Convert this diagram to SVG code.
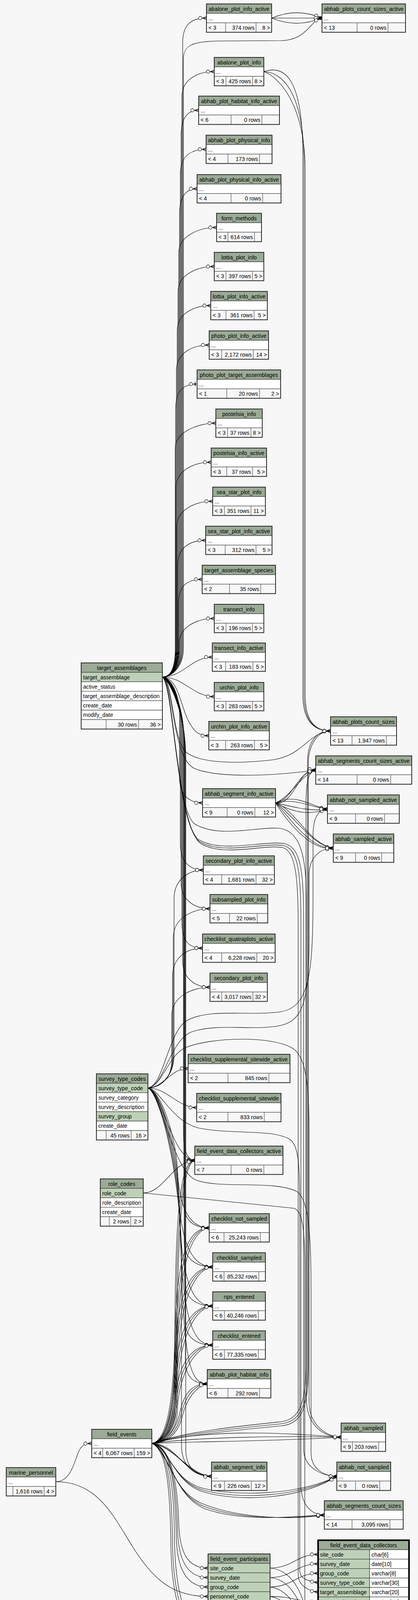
<svg xmlns="http://www.w3.org/2000/svg" width="1071" height="4367" viewBox="0 0 1071 4367">
<style>
text{font-family:"Liberation Sans",Arial,Helvetica,sans-serif;font-size:14.1px;fill:#000}
.c{text-anchor:middle}
.r{text-anchor:end}
.h{fill:#9bab96;stroke:#2a2a2a;stroke-width:1}
.k{fill:#bed1b8;stroke:#2a2a2a;stroke-width:1}
.w{fill:#fff;stroke:#2a2a2a;stroke-width:1}
.f{fill:#f7f7f7;stroke:#2a2a2a;stroke-width:1}
.g{fill:none;stroke:#2a2a2a;stroke-width:1}
.o{fill:none;stroke:#2a2a2a;stroke-width:2}
.ob{fill:none;stroke:#000;stroke-width:4}
#connectors path{fill:none;stroke:#000;stroke-width:1.1;marker-end:url(#cr)}
#connectors path.t1{marker-end:url(#tee)}
</style>
<defs>
<marker id="cr" markerUnits="userSpaceOnUse" viewBox="0 0 24 12" refX="22" refY="6" markerWidth="24" markerHeight="12" orient="auto">
<path d="M12,6L22,2M12,6L22,6M12,6L22,10" fill="none" stroke="#000" stroke-width="1.3"/>
<circle cx="6" cy="6" r="4.2" fill="#fff" stroke="#000" stroke-width="1.1"/>
</marker>
<marker id="tee" markerUnits="userSpaceOnUse" viewBox="0 0 24 12" refX="22" refY="6" markerWidth="24" markerHeight="12" orient="auto">
<path d="M10,6L22,6" fill="none" stroke="#000" stroke-width="1.1"/>
<path d="M17,1.5L17,10.5" fill="none" stroke="#000" stroke-width="2.4"/>
<circle cx="6" cy="6" r="4.2" fill="#fff" stroke="#000" stroke-width="1.1"/>
</marker>
</defs>
<rect width="1071" height="4367" fill="#f7f7f7"/>

<g id="connectors">
<path d="M416,1733C440,1733 468,1705 468,1660V111C468,68 484,46.3 529,46.3"/>
<path d="M416,1733C442,1733 470,1705 470,1660V150C470,118 490,106 560,105L720,104C790,102 795,50 825,46.3"/>
<path d="M416,1733C440,1733 466,1705 466,1660V248C466,205 504,183.3 549,183.3"/>
<path d="M416,1733C440,1733 464,1705 464,1660V347C464,304 479,282.3 509,282.3"/>
<path d="M416,1733C440,1733 462,1705 462,1660V447C462,404 483,382.3 528,382.3"/>
<path d="M416,1733C440,1733 460,1705 460,1660V548C460,505 475,483.3 505,483.3"/>
<path d="M416,1733C440,1733 458,1705 458,1660V647C458,604 510,582.3 555,582.3"/>
<path d="M416,1733C440,1733 456,1705 456,1660V747C456,704 504,682.3 549,682.3"/>
<path d="M416,1733C440,1733 454,1705 454,1660V847C454,804 495,782.3 540,782.3"/>
<path d="M416,1733C440,1733 452,1705 452,1660V948C452,905 491,883.3 536,883.3"/>
<path class="t1" d="M416,1733C440,1733 450,1705 450,1660V1048C450,1005 465,983.3 505,983.3"/>
<path d="M416,1733C440,1733 449,1705 449,1660V1148C449,1105 508,1083.3 553,1083.3"/>
<path d="M416,1733C440,1733 451,1705 451,1660V1248C451,1205 496,1183.3 541,1183.3"/>
<path d="M416,1733C440,1733 453,1705 453,1660V1348C453,1305 500,1283.3 545,1283.3"/>
<path d="M416,1733C440,1733 455,1705 455,1660V1448C455,1405 482,1383.3 527,1383.3"/>
<path d="M416,1733C440,1733 457,1705 457,1660V1548C457,1505 473,1483.3 518,1483.3"/>
<path d="M416,1733C440,1733 459,1705 459,1660V1648C459,1605 504,1583.3 549,1583.3"/>
<path d="M416,1733C470,1733 490,1682.3 544,1682.3"/>
<path d="M416,1733C470,1733 495,1783.3 549,1783.3"/>
<path d="M416,1733C455,1735 462,1800 480,1840C495,1870 505,1883.3 535,1883.3"/>
<path d="M416,1733C440,1735 460,1780 460,1830V1990C460,2030 480,2055.3 519,2055.3"/>
<path d="M416,1733C440,1736 462,1790 462,1840V2160C462,2205 485,2227.3 521,2227.3"/>
<path d="M416,1733C440,1737 464,1795 464,1850V2260C464,2305 500,2326.3 538,2326.3"/>
<path d="M416,1733C440,1738 466,1800 466,1860V2360C466,2405 480,2427.3 519,2427.3"/>
<path d="M416,1733C440,1739 468,1805 468,1870V2460C468,2505 500,2527.3 538,2527.3"/>
<path d="M416,1733C440,1740 470,1810 470,1880V2900C470,2945 480,2970.3 499,2970.3"/>
<path d="M416,1733C440,1741 471,1815 471,1890V3080C471,3125 495,3143.3 536,3143.3"/>
<path d="M416,1733C440,1742 472,1820 472,1900V3180C472,3225 505,3243.3 545,3243.3"/>
<path d="M416,1733C440,1743 473,1825 473,1910V3280C473,3325 505,3343.3 545,3343.3"/>
<path d="M416,1733C440,1744 474,1830 474,1920V3380C474,3425 505,3443.3 545,3443.3"/>
<path d="M416,1733C440,1745 475,1835 475,1930V3480C475,3525 495,3542.3 531,3542.3"/>
<path d="M416,1733C440,1746 476,1840 476,1940V3710C476,3760 505,3779.3 542,3779.3"/>
<path d="M416,1733C445,1740 440,1900 480,1928C520,1956 620,1955 700,1945C780,1932 790,1875 847,1871.3"/>
<path d="M416,1733C445,1745 440,1945 500,1968C560,1992 700,1987 809,1971.3"/>
<path d="M416,1733C445,1745 450,2080 500,2110C560,2145 650,2118 710,2120C765,2122 785,2180 785,2300V3580C785,3650 830,3679.3 874,3679.3"/>
<path d="M416,1733C445,1748 452,2110 510,2150C570,2185 680,2150 730,2160C770,2170 778,2230 778,2350V3710C778,3760 830,3779.3 863,3779.3"/>
<path d="M416,1733C445,1750 452,2115 512,2155C572,2190 680,2155 728,2165C765,2175 771,2240 771,2360V3800C771,3855 800,3878.3 831,3878.3"/>
<path d="M416,1733C445,1752 454,2120 515,2160C575,2195 680,2160 725,2170C758,2180 764,2250 764,2370V4030C764,4060 790,4072 815,4076.1"/>
<path d="M676,183.3C730,165 776,200 776,400V1780C776,1840 800,1871.3 847,1871.3"/>
<path d="M676,183.3C720,185 779,230 779,420V1780C779,1845 805,1871.3 847,1871.3"/>
<path d="M676,183.3C710,195 782,260 782,440V1780C782,1850 810,1871.3 847,1871.3"/>
<path d="M696,46.3C740,28 780,28 825,46.3"/>
<path d="M696,46.3L825,46.3"/>
<path d="M696,46.3C740,64 780,64 825,46.3"/>
<path d="M706,2055.3C750,2050 760,1975 809,1971.3"/>
<path d="M706,2055.3C745,2040 770,1985 809,1971.3"/>
<path d="M706,2055.3C755,2062 765,1965 809,1971.3"/>
<path d="M706,2055.3C760,2030 790,2062 839,2071.3"/>
<path d="M706,2055.3C760,2042 800,2068 839,2071.3"/>
<path d="M706,2055.3C760,2068 800,2078 839,2071.3"/>
<path d="M706,2055.3C760,2085 800,2085 839,2071.3"/>
<path d="M706,2055.3C760,2075 790,2160 854,2171.3"/>
<path d="M706,2055.3C755,2090 800,2165 854,2171.3"/>
<path d="M706,2055.3C745,2095 795,2175 854,2171.3"/>
<path d="M706,2055.3C740,2110 800,2180 854,2171.3"/>
<path d="M379,2785C405,2785 446,2760 446,2700V2300C446,2255 480,2227.3 521,2227.3"/>
<path d="M379,2785C405,2785 444,2762 444,2705V2400C444,2350 495,2326.3 538,2326.3"/>
<path d="M379,2785C405,2785 442,2764 442,2710V2500C442,2450 480,2427.3 519,2427.3"/>
<path d="M379,2785C405,2785 440,2766 440,2715V2600C440,2550 495,2527.3 538,2527.3"/>
<path d="M379,2785C420,2785 435,2736 482,2735.3"/>
<path d="M379,2785C430,2786 455,2835.3 504,2835.3"/>
<path d="M379,2785C415,2790 440,2968 499,2970.3"/>
<path d="M379,2785C410,2790 450,2900 455,3000C460,3100 490,3143.3 536,3143.3"/>
<path d="M379,2785C410,2792 452,2920 457,3040C462,3200 500,3243.3 545,3243.3"/>
<path d="M379,2785C410,2794 454,2940 459,3080C464,3300 500,3343.3 545,3343.3"/>
<path d="M379,2785C410,2796 456,2960 461,3120C466,3400 500,3443.3 545,3443.3"/>
<path d="M379,2785C410,2798 458,2980 463,3160C468,3500 490,3542.3 531,3542.3"/>
<path d="M379,2785C410,2800 460,3000 465,3200V3700C465,3755 500,3779.3 542,3779.3"/>
<path d="M379,2785C420,2780 430,2640 480,2612C540,2580 640,2602 720,2590C790,2578 802,2500 802,2300V2140C802,2095 815,2071.3 839,2071.3"/>
<path d="M379,2785C420,2781 435,2665 490,2642C560,2618 650,2640 720,2625C780,2612 792,2550 792,2400V2240C792,2195 820,2171.3 854,2171.3"/>
<path d="M379,2785C415,2782 432,2700 475,2682C540,2655 700,2650 752,2685C788,2710 792,2800 792,2900V3590C792,3650 840,3679.3 874,3679.3"/>
<path d="M379,2785C410,2788 438,2870 510,2888C600,2905 690,2890 740,2915C770,2932 768,3000 768,3150V4020C768,4045 795,4048 815,4051.9"/>
<path d="M379,2785C410,2790 440,2990 500,3020C560,3045 700,3020 760,3050C790,3068 797,3150 797,3300V3720C797,3760 830,3779.3 863,3779.3"/>
<path d="M367,3054C420,3054 440,2975 499,2970.3"/>
<path d="M367,3054L752,3093C776,3098 781,3150 781,3250V4090C781,4115 800,4120 815,4124.5"/>
<path d="M389,3695C425,3690 446,3600 448,3400C450,3100 462,2972 499,2970.3"/>
<path d="M389,3695C428,3692 449,3600 451,3400C453,3110 466,2975 499,2970.3"/>
<path d="M389,3695C431,3694 452,3600 454,3400C456,3120 470,2978 499,2970.3"/>
<path d="M389,3695C425,3690 446,3620 448,3450C450,3250 470,3143.3 536,3143.3"/>
<path d="M389,3695C428,3692 449,3620 451,3460C453,3260 476,3146 536,3143.3"/>
<path d="M389,3695C431,3694 452,3620 454,3470C456,3270 482,3150 536,3143.3"/>
<path d="M389,3695C425,3690 446,3630 448,3500C450,3330 480,3243.3 545,3243.3"/>
<path d="M389,3695C428,3692 449,3630 451,3510C453,3340 486,3246 545,3243.3"/>
<path d="M389,3695C431,3694 452,3630 454,3520C456,3350 492,3250 545,3243.3"/>
<path d="M389,3695C425,3690 446,3640 448,3560C450,3420 480,3343.3 545,3343.3"/>
<path d="M389,3695C428,3692 449,3640 451,3570C453,3430 486,3346 545,3343.3"/>
<path d="M389,3695C431,3694 452,3640 454,3580C456,3440 492,3350 545,3343.3"/>
<path d="M389,3695C425,3690 446,3650 448,3610C450,3510 480,3443.3 545,3443.3"/>
<path d="M389,3695C428,3692 449,3650 451,3615C453,3520 486,3446 545,3443.3"/>
<path d="M389,3695C431,3694 452,3650 454,3620C456,3530 492,3450 545,3443.3"/>
<path d="M389,3695C430,3690 450,3660 460,3620C470,3570 490,3542.3 531,3542.3"/>
<path d="M389,3695C433,3692 453,3662 463,3625C473,3578 495,3545 531,3542.3"/>
<path d="M389,3695C436,3694 456,3664 466,3630C476,3585 500,3550 531,3542.3"/>
<path d="M389,3695C450,3700 480,3779.3 542,3779.3"/>
<path d="M389,3695C450,3705 485,3776 542,3779.3"/>
<path d="M389,3695C455,3695 475,3784 542,3779.3"/>
<path d="M389,3695C500,3680 700,3675 874,3679.3"/>
<path d="M389,3695C500,3690 700,3690 874,3679.3"/>
<path d="M389,3695C520,3660 700,3665 874,3679.3"/>
<path d="M389,3695C430,3700 440,3790 520,3810C600,3830 760,3830 863,3779.3"/>
<path d="M389,3695C432,3702 443,3795 522,3815C605,3838 765,3835 863,3779.3"/>
<path d="M389,3695C434,3704 446,3800 524,3820C610,3845 770,3840 863,3779.3"/>
<path d="M389,3695C430,3710 440,3820 520,3850C620,3890 760,3890 831,3878.3"/>
<path d="M389,3695C432,3712 443,3825 522,3856C625,3895 765,3885 831,3878.3"/>
<path d="M389,3695C434,3714 446,3830 524,3862C630,3900 770,3880 831,3878.3"/>
<path d="M389,3695C440,3700 455,3800 458,3900C461,3990 490,4014.3 533,4014.3"/>
<path d="M389,3695C440,3702 452,3800 455,3920C458,4010 490,4038.5 533,4038.5"/>
<path d="M389,3695C440,3704 449,3800 452,3940C455,4035 490,4062.7 533,4062.7"/>
<path d="M389,3695C430,3710 440,3800 442,3950C445,4150 500,4262 700,4270C780,4273 820,4276 855,4276.3"/>
<path d="M389,3695C426,3710 436,3800 438,3960C441,4160 500,4268 700,4274C780,4276 820,4276 855,4276.3"/>
<path d="M389,3695C434,3710 446,3800 447,3940C450,4140 500,4256 700,4266C780,4270 820,4276 855,4276.3"/>
<path d="M389,3695C480,3668 620,3655 720,3645C770,3640 788,3600 788,3500V1950C788,1900 810,1871.3 847,1871.3"/>
<path d="M389,3695C480,3672 620,3660 722,3650C772,3645 790,3605 790,3505V1955C790,1905 815,1871.3 847,1871.3"/>
<path d="M389,3695C480,3664 620,3650 718,3640C766,3635 784,3595 784,3495V2060C784,2000 790,1975 809,1971.3"/>
<path d="M692,4014.3C750,4014 760,3979.3 815,3979.3"/>
<path d="M692,4038.5C750,4038 760,4003.5 815,4003.5"/>
<path d="M692,4062.7C750,4062 760,4027.7 815,4027.7"/>
<path d="M692,4086.9C750,4087 760,4100.3 815,4100.3"/>
<path d="M692,4014.3C760,4020 785,4100 800,4200C810,4260 830,4276.3 855,4276.3"/>
<path d="M692,4038.5C755,4045 780,4120 797,4210C808,4262 830,4276.3 855,4276.3"/>
<path d="M692,4062.7C750,4070 775,4140 794,4220C806,4265 830,4276.3 855,4276.3"/>
<path d="M692,4086.9C745,4095 770,4160 791,4230C804,4268 830,4276.3 855,4276.3"/>
<path d="M143,3793.3C180,3793 190,3745 200,3720C207,3702 215,3695.3 235,3695.3"/>
<path d="M143,3793.3C250,3793 290,3880 340,3960C390,4040 440,4086.9 533,4086.9"/>
</g>

<g id="abalone_plot_info_active" transform="translate(529,10)"><rect class="h" width="167" height="24.2"/><rect class="w" y="24.2" width="167" height="24.2"/><rect class="f" y="48.4" width="167" height="24.2"/><path class="g" d="M49,48.4V72.6M127,48.4V72.6"/><rect class="o" width="167" height="72.6"/><text class="c" x="83.5" y="17.5">abalone_plot_info_active</text><text x="5" y="41.5">...</text><text x="5" y="65.7">&lt; 3</text><text class="r" x="123" y="65.7">374 rows</text><text class="r" x="163" y="65.7">8 &gt;</text></g>
<g id="abalone_plot_info" transform="translate(549,147)"><rect class="h" width="127" height="24.2"/><rect class="w" y="24.2" width="127" height="24.2"/><rect class="f" y="48.4" width="127" height="24.2"/><path class="g" d="M30,48.4V72.6M98,48.4V72.6"/><rect class="o" width="127" height="72.6"/><text class="c" x="63.5" y="17.5">abalone_plot_info</text><text x="5" y="41.5">...</text><text x="5" y="65.7">&lt; 3</text><text class="r" x="94" y="65.7">425 rows</text><text class="r" x="123" y="65.7">8 &gt;</text></g>
<g id="abhab_plot_habitat_info_active" transform="translate(509,246)"><rect class="h" width="207" height="24.2"/><rect class="w" y="24.2" width="207" height="24.2"/><rect class="f" y="48.4" width="207" height="24.2"/><path class="g" d="M83,48.4V72.6M162,48.4V72.6"/><rect class="o" width="207" height="72.6"/><text class="c" x="103.5" y="17.5">abhab_plot_habitat_info_active</text><text x="5" y="41.5">...</text><text x="5" y="65.7">&lt; 6</text><text class="r" x="158" y="65.7">0 rows</text></g>
<g id="abhab_plot_physical_info" transform="translate(528,346)"><rect class="h" width="169" height="24.2"/><rect class="w" y="24.2" width="169" height="24.2"/><rect class="f" y="48.4" width="169" height="24.2"/><path class="g" d="M56,48.4V72.6M137,48.4V72.6"/><rect class="o" width="169" height="72.6"/><text class="c" x="84.5" y="17.5">abhab_plot_physical_info</text><text x="5" y="41.5">...</text><text x="5" y="65.7">&lt; 4</text><text class="r" x="133" y="65.7">173 rows</text></g>
<g id="abhab_plot_physical_info_active" transform="translate(505,447)"><rect class="h" width="215" height="24.2"/><rect class="w" y="24.2" width="215" height="24.2"/><rect class="f" y="48.4" width="215" height="24.2"/><path class="g" d="M87,48.4V72.6M168,48.4V72.6"/><rect class="o" width="215" height="72.6"/><text class="c" x="107.5" y="17.5">abhab_plot_physical_info_active</text><text x="5" y="41.5">...</text><text x="5" y="65.7">&lt; 4</text><text class="r" x="164" y="65.7">0 rows</text></g>
<g id="form_methods" transform="translate(555,546)"><rect class="h" width="115" height="24.2"/><rect class="w" y="24.2" width="115" height="24.2"/><rect class="f" y="48.4" width="115" height="24.2"/><path class="g" d="M29,48.4V72.6M97,48.4V72.6"/><rect class="o" width="115" height="72.6"/><text class="c" x="57.5" y="17.5">form_methods</text><text x="5" y="41.5">...</text><text x="5" y="65.7">&lt; 3</text><text class="r" x="93" y="65.7">614 rows</text></g>
<g id="lottia_plot_info" transform="translate(549,646)"><rect class="h" width="127" height="24.2"/><rect class="w" y="24.2" width="127" height="24.2"/><rect class="f" y="48.4" width="127" height="24.2"/><path class="g" d="M30,48.4V72.6M98,48.4V72.6"/><rect class="o" width="127" height="72.6"/><text class="c" x="63.5" y="17.5">lottia_plot_info</text><text x="5" y="41.5">...</text><text x="5" y="65.7">&lt; 3</text><text class="r" x="94" y="65.7">397 rows</text><text class="r" x="123" y="65.7">5 &gt;</text></g>
<g id="lottia_plot_info_active" transform="translate(540,746)"><rect class="h" width="145" height="24.2"/><rect class="w" y="24.2" width="145" height="24.2"/><rect class="f" y="48.4" width="145" height="24.2"/><path class="g" d="M39,48.4V72.6M111,48.4V72.6"/><rect class="o" width="145" height="72.6"/><text class="c" x="72.5" y="17.5">lottia_plot_info_active</text><text x="5" y="41.5">...</text><text x="5" y="65.7">&lt; 3</text><text class="r" x="107" y="65.7">361 rows</text><text class="r" x="141" y="65.7">5 &gt;</text></g>
<g id="photo_plot_info_active" transform="translate(536,847)"><rect class="h" width="152" height="24.2"/><rect class="w" y="24.2" width="152" height="24.2"/><rect class="f" y="48.4" width="152" height="24.2"/><path class="g" d="M32,48.4V72.6M113,48.4V72.6"/><rect class="o" width="152" height="72.6"/><text class="c" x="76" y="17.5">photo_plot_info_active</text><text x="5" y="41.5">...</text><text x="5" y="65.7">&lt; 3</text><text class="r" x="109" y="65.7">2,172 rows</text><text class="r" x="148" y="65.7">14 &gt;</text></g>
<g id="photo_plot_target_assemblages" transform="translate(505,947)"><rect class="h" width="214" height="24.2"/><rect class="w" y="24.2" width="214" height="24.2"/><rect class="f" y="48.4" width="214" height="24.2"/><path class="g" d="M76,48.4V72.6M160,48.4V72.6"/><rect class="o" width="214" height="72.6"/><text class="c" x="107" y="17.5">photo_plot_target_assemblages</text><text x="5" y="41.5">...</text><text x="5" y="65.7">&lt; 1</text><text class="r" x="156" y="65.7">20 rows</text><text class="r" x="210" y="65.7">2 &gt;</text></g>
<g id="postelsia_info" transform="translate(553,1047)"><rect class="h" width="119" height="24.2"/><rect class="w" y="24.2" width="119" height="24.2"/><rect class="f" y="48.4" width="119" height="24.2"/><path class="g" d="M30,48.4V72.6M90,48.4V72.6"/><rect class="o" width="119" height="72.6"/><text class="c" x="59.5" y="17.5">postelsia_info</text><text x="5" y="41.5">...</text><text x="5" y="65.7">&lt; 3</text><text class="r" x="86" y="65.7">37 rows</text><text class="r" x="115" y="65.7">8 &gt;</text></g>
<g id="postelsia_info_active" transform="translate(541,1147)"><rect class="h" width="142" height="24.2"/><rect class="w" y="24.2" width="142" height="24.2"/><rect class="f" y="48.4" width="142" height="24.2"/><path class="g" d="M40,48.4V72.6M106,48.4V72.6"/><rect class="o" width="142" height="72.6"/><text class="c" x="71" y="17.5">postelsia_info_active</text><text x="5" y="41.5">...</text><text x="5" y="65.7">&lt; 3</text><text class="r" x="102" y="65.7">37 rows</text><text class="r" x="138" y="65.7">5 &gt;</text></g>
<g id="sea_star_plot_info" transform="translate(545,1247)"><rect class="h" width="135" height="24.2"/><rect class="w" y="24.2" width="135" height="24.2"/><rect class="f" y="48.4" width="135" height="24.2"/><path class="g" d="M30,48.4V72.6M98,48.4V72.6"/><rect class="o" width="135" height="72.6"/><text class="c" x="67.5" y="17.5">sea_star_plot_info</text><text x="5" y="41.5">...</text><text x="5" y="65.7">&lt; 3</text><text class="r" x="94" y="65.7">351 rows</text><text class="r" x="131" y="65.7">11 &gt;</text></g>
<g id="sea_star_plot_info_active" transform="translate(527,1347)"><rect class="h" width="170" height="24.2"/><rect class="w" y="24.2" width="170" height="24.2"/><rect class="f" y="48.4" width="170" height="24.2"/><path class="g" d="M50,48.4V72.6M129,48.4V72.6"/><rect class="o" width="170" height="72.6"/><text class="c" x="85" y="17.5">sea_star_plot_info_active</text><text x="5" y="41.5">...</text><text x="5" y="65.7">&lt; 3</text><text class="r" x="125" y="65.7">312 rows</text><text class="r" x="166" y="65.7">5 &gt;</text></g>
<g id="target_assemblage_species" transform="translate(518,1447)"><rect class="h" width="188" height="24.2"/><rect class="w" y="24.2" width="188" height="24.2"/><rect class="f" y="48.4" width="188" height="24.2"/><path class="g" d="M70,48.4V72.6M150,48.4V72.6"/><rect class="o" width="188" height="72.6"/><text class="c" x="94" y="17.5">target_assemblage_species</text><text x="5" y="41.5">...</text><text x="5" y="65.7">&lt; 2</text><text class="r" x="146" y="65.7">35 rows</text></g>
<g id="transect_info" transform="translate(549,1547)"><rect class="h" width="127" height="24.2"/><rect class="w" y="24.2" width="127" height="24.2"/><rect class="f" y="48.4" width="127" height="24.2"/><path class="g" d="M30,48.4V72.6M98,48.4V72.6"/><rect class="o" width="127" height="72.6"/><text class="c" x="63.5" y="17.5">transect_info</text><text x="5" y="41.5">...</text><text x="5" y="65.7">&lt; 3</text><text class="r" x="94" y="65.7">196 rows</text><text class="r" x="123" y="65.7">5 &gt;</text></g>
<g id="transect_info_active" transform="translate(544,1646)"><rect class="h" width="136" height="24.2"/><rect class="w" y="24.2" width="136" height="24.2"/><rect class="f" y="48.4" width="136" height="24.2"/><path class="g" d="M34,48.4V72.6M104,48.4V72.6"/><rect class="o" width="136" height="72.6"/><text class="c" x="68" y="17.5">transect_info_active</text><text x="5" y="41.5">...</text><text x="5" y="65.7">&lt; 3</text><text class="r" x="100" y="65.7">183 rows</text><text class="r" x="132" y="65.7">5 &gt;</text></g>
<g id="urchin_plot_info" transform="translate(549,1747)"><rect class="h" width="127" height="24.2"/><rect class="w" y="24.2" width="127" height="24.2"/><rect class="f" y="48.4" width="127" height="24.2"/><path class="g" d="M30,48.4V72.6M98,48.4V72.6"/><rect class="o" width="127" height="72.6"/><text class="c" x="63.5" y="17.5">urchin_plot_info</text><text x="5" y="41.5">...</text><text x="5" y="65.7">&lt; 3</text><text class="r" x="94" y="65.7">283 rows</text><text class="r" x="123" y="65.7">5 &gt;</text></g>
<g id="urchin_plot_info_active" transform="translate(535,1847)"><rect class="h" width="155" height="24.2"/><rect class="w" y="24.2" width="155" height="24.2"/><rect class="f" y="48.4" width="155" height="24.2"/><path class="g" d="M43,48.4V72.6M117,48.4V72.6"/><rect class="o" width="155" height="72.6"/><text class="c" x="77.5" y="17.5">urchin_plot_info_active</text><text x="5" y="41.5">...</text><text x="5" y="65.7">&lt; 3</text><text class="r" x="113" y="65.7">263 rows</text><text class="r" x="151" y="65.7">5 &gt;</text></g>
<g id="abhab_segment_info_active" transform="translate(519,2019)"><rect class="h" width="187" height="24.2"/><rect class="w" y="24.2" width="187" height="24.2"/><rect class="f" y="48.4" width="187" height="24.2"/><path class="g" d="M63,48.4V72.6M134,48.4V72.6"/><rect class="o" width="187" height="72.6"/><text class="c" x="93.5" y="17.5">abhab_segment_info_active</text><text x="5" y="41.5">...</text><text x="5" y="65.7">&lt; 9</text><text class="r" x="130" y="65.7">0 rows</text><text class="r" x="183" y="65.7">12 &gt;</text></g>
<g id="secondary_plot_info_active" transform="translate(521,2191)"><rect class="h" width="182" height="24.2"/><rect class="w" y="24.2" width="182" height="24.2"/><rect class="f" y="48.4" width="182" height="24.2"/><path class="g" d="M47,48.4V72.6M135,48.4V72.6"/><rect class="o" width="182" height="72.6"/><text class="c" x="91" y="17.5">secondary_plot_info_active</text><text x="5" y="41.5">...</text><text x="5" y="65.7">&lt; 4</text><text class="r" x="131" y="65.7">1,681 rows</text><text class="r" x="178" y="65.7">32 &gt;</text></g>
<g id="subsampled_plot_info" transform="translate(538,2290)"><rect class="h" width="148" height="24.2"/><rect class="w" y="24.2" width="148" height="24.2"/><rect class="f" y="48.4" width="148" height="24.2"/><path class="g" d="M50,48.4V72.6M121,48.4V72.6"/><rect class="o" width="148" height="72.6"/><text class="c" x="74" y="17.5">subsampled_plot_info</text><text x="5" y="41.5">...</text><text x="5" y="65.7">&lt; 5</text><text class="r" x="117" y="65.7">22 rows</text></g>
<g id="checklist_quatraplots_active" transform="translate(519,2391)"><rect class="h" width="186" height="24.2"/><rect class="w" y="24.2" width="186" height="24.2"/><rect class="f" y="48.4" width="186" height="24.2"/><path class="g" d="M49,48.4V72.6M139,48.4V72.6"/><rect class="o" width="186" height="72.6"/><text class="c" x="93" y="17.5">checklist_quatraplots_active</text><text x="5" y="41.5">...</text><text x="5" y="65.7">&lt; 4</text><text class="r" x="135" y="65.7">6,228 rows</text><text class="r" x="182" y="65.7">20 &gt;</text></g>
<g id="secondary_plot_info" transform="translate(538,2491)"><rect class="h" width="147" height="24.2"/><rect class="w" y="24.2" width="147" height="24.2"/><rect class="f" y="48.4" width="147" height="24.2"/><path class="g" d="M30,48.4V72.6M110,48.4V72.6"/><rect class="o" width="147" height="72.6"/><text class="c" x="73.5" y="17.5">secondary_plot_info</text><text x="5" y="41.5">...</text><text x="5" y="65.7">&lt; 4</text><text class="r" x="106" y="65.7">3,017 rows</text><text class="r" x="143" y="65.7">32 &gt;</text></g>
<g id="checklist_supplemental_sitewide_active" transform="translate(482,2699)"><rect class="h" width="261" height="24.2"/><rect class="w" y="24.2" width="261" height="24.2"/><rect class="f" y="48.4" width="261" height="24.2"/><path class="g" d="M102,48.4V72.6M207,48.4V72.6"/><rect class="o" width="261" height="72.6"/><text class="c" x="130.5" y="17.5">checklist_supplemental_sitewide_active</text><text x="5" y="41.5">...</text><text x="5" y="65.7">&lt; 2</text><text class="r" x="203" y="65.7">845 rows</text></g>
<g id="checklist_supplemental_sitewide" transform="translate(504,2799)"><rect class="h" width="216" height="24.2"/><rect class="w" y="24.2" width="216" height="24.2"/><rect class="f" y="48.4" width="216" height="24.2"/><path class="g" d="M80,48.4V72.6M173,48.4V72.6"/><rect class="o" width="216" height="72.6"/><text class="c" x="108" y="17.5">checklist_supplemental_sitewide</text><text x="5" y="41.5">...</text><text x="5" y="65.7">&lt; 2</text><text class="r" x="169" y="65.7">833 rows</text></g>
<g id="field_event_data_collectors_active" transform="translate(499,2934)"><rect class="h" width="226" height="24.2"/><rect class="w" y="24.2" width="226" height="24.2"/><rect class="f" y="48.4" width="226" height="24.2"/><path class="g" d="M93,48.4V72.6M177,48.4V72.6"/><rect class="o" width="226" height="72.6"/><text class="c" x="113" y="17.5">field_event_data_collectors_active</text><text x="5" y="41.5">...</text><text x="5" y="65.7">&lt; 7</text><text class="r" x="173" y="65.7">0 rows</text></g>
<g id="checklist_not_sampled" transform="translate(536,3107)"><rect class="h" width="154" height="24.2"/><rect class="w" y="24.2" width="154" height="24.2"/><rect class="f" y="48.4" width="154" height="24.2"/><path class="g" d="M38,48.4V72.6M131,48.4V72.6"/><rect class="o" width="154" height="72.6"/><text class="c" x="77" y="17.5">checklist_not_sampled</text><text x="5" y="41.5">...</text><text x="5" y="65.7">&lt; 6</text><text class="r" x="127" y="65.7">25,243 rows</text></g>
<g id="checklist_sampled" transform="translate(545,3207)"><rect class="h" width="135" height="24.2"/><rect class="w" y="24.2" width="135" height="24.2"/><rect class="f" y="48.4" width="135" height="24.2"/><path class="g" d="M29,48.4V72.6M118,48.4V72.6"/><rect class="o" width="135" height="72.6"/><text class="c" x="67.5" y="17.5">checklist_sampled</text><text x="5" y="41.5">...</text><text x="5" y="65.7">&lt; 6</text><text class="r" x="114" y="65.7">85,232 rows</text></g>
<g id="nps_entered" transform="translate(545,3307)"><rect class="h" width="135" height="24.2"/><rect class="w" y="24.2" width="135" height="24.2"/><rect class="f" y="48.4" width="135" height="24.2"/><path class="g" d="M30,48.4V72.6M117,48.4V72.6"/><rect class="o" width="135" height="72.6"/><text class="c" x="67.5" y="17.5">nps_entered</text><text x="5" y="41.5">...</text><text x="5" y="65.7">&lt; 6</text><text class="r" x="113" y="65.7">40,246 rows</text></g>
<g id="checklist_entered" transform="translate(545,3407)"><rect class="h" width="135" height="24.2"/><rect class="w" y="24.2" width="135" height="24.2"/><rect class="f" y="48.4" width="135" height="24.2"/><path class="g" d="M30,48.4V72.6M117,48.4V72.6"/><rect class="o" width="135" height="72.6"/><text class="c" x="67.5" y="17.5">checklist_entered</text><text x="5" y="41.5">...</text><text x="5" y="65.7">&lt; 6</text><text class="r" x="113" y="65.7">77,335 rows</text></g>
<g id="abhab_plot_habitat_info" transform="translate(531,3506)"><rect class="h" width="163" height="24.2"/><rect class="w" y="24.2" width="163" height="24.2"/><rect class="f" y="48.4" width="163" height="24.2"/><path class="g" d="M53,48.4V72.6M134,48.4V72.6"/><rect class="o" width="163" height="72.6"/><text class="c" x="81.5" y="17.5">abhab_plot_habitat_info</text><text x="5" y="41.5">...</text><text x="5" y="65.7">&lt; 6</text><text class="r" x="130" y="65.7">292 rows</text></g>
<g id="abhab_segment_info" transform="translate(542,3743)"><rect class="h" width="142" height="24.2"/><rect class="w" y="24.2" width="142" height="24.2"/><rect class="f" y="48.4" width="142" height="24.2"/><path class="g" d="M33,48.4V72.6M102,48.4V72.6"/><rect class="o" width="142" height="72.6"/><text class="c" x="71" y="17.5">abhab_segment_info</text><text x="5" y="41.5">...</text><text x="5" y="65.7">&lt; 9</text><text class="r" x="98" y="65.7">226 rows</text><text class="r" x="138" y="65.7">12 &gt;</text></g>

<g id="abhab_plots_count_sizes_active" transform="translate(825,10)"><rect class="h" width="214" height="24.2"/><rect class="w" y="24.2" width="214" height="24.2"/><rect class="f" y="48.4" width="214" height="24.2"/><path class="g" d="M90,48.4V72.6M169,48.4V72.6"/><rect class="o" width="214" height="72.6"/><text class="c" x="107" y="17.5">abhab_plots_count_sizes_active</text><text x="5" y="41.5">...</text><text x="5" y="65.7">&lt; 13</text><text class="r" x="165" y="65.7">0 rows</text></g>
<g id="abhab_plots_count_sizes" transform="translate(847,1835)"><rect class="h" width="169" height="24.2"/><rect class="w" y="24.2" width="169" height="24.2"/><rect class="f" y="48.4" width="169" height="24.2"/><path class="g" d="M55,48.4V72.6M143,48.4V72.6"/><rect class="o" width="169" height="72.6"/><text class="c" x="84.5" y="17.5">abhab_plots_count_sizes</text><text x="5" y="41.5">...</text><text x="5" y="65.7">&lt; 13</text><text class="r" x="139" y="65.7">1,947 rows</text></g>
<g id="abhab_segments_count_sizes_active" transform="translate(809,1935)"><rect class="h" width="246" height="24.2"/><rect class="w" y="24.2" width="246" height="24.2"/><rect class="f" y="48.4" width="246" height="24.2"/><path class="g" d="M106,48.4V72.6M192,48.4V72.6"/><rect class="o" width="246" height="72.6"/><text class="c" x="123" y="17.5">abhab_segments_count_sizes_active</text><text x="5" y="41.5">...</text><text x="5" y="65.7">&lt; 14</text><text class="r" x="188" y="65.7">0 rows</text></g>
<g id="abhab_not_sampled_active" transform="translate(839,2035)"><rect class="h" width="184" height="24.2"/><rect class="w" y="24.2" width="184" height="24.2"/><rect class="f" y="48.4" width="184" height="24.2"/><path class="g" d="M72,48.4V72.6M146,48.4V72.6"/><rect class="o" width="184" height="72.6"/><text class="c" x="92" y="17.5">abhab_not_sampled_active</text><text x="5" y="41.5">...</text><text x="5" y="65.7">&lt; 9</text><text class="r" x="142" y="65.7">0 rows</text></g>
<g id="abhab_sampled_active" transform="translate(854,2135)"><rect class="h" width="155" height="24.2"/><rect class="w" y="24.2" width="155" height="24.2"/><rect class="f" y="48.4" width="155" height="24.2"/><path class="g" d="M57,48.4V72.6M124,48.4V72.6"/><rect class="o" width="155" height="72.6"/><text class="c" x="77.5" y="17.5">abhab_sampled_active</text><text x="5" y="41.5">...</text><text x="5" y="65.7">&lt; 9</text><text class="r" x="120" y="65.7">0 rows</text></g>
<g id="abhab_sampled" transform="translate(874,3643)"><rect class="h" width="114" height="24.2"/><rect class="w" y="24.2" width="114" height="24.2"/><rect class="f" y="48.4" width="114" height="24.2"/><path class="g" d="M29,48.4V72.6M96,48.4V72.6"/><rect class="o" width="114" height="72.6"/><text class="c" x="57" y="17.5">abhab_sampled</text><text x="5" y="41.5">...</text><text x="5" y="65.7">&lt; 9</text><text class="r" x="92" y="65.7">203 rows</text></g>
<g id="abhab_not_sampled" transform="translate(863,3743)"><rect class="h" width="138" height="24.2"/><rect class="w" y="24.2" width="138" height="24.2"/><rect class="f" y="48.4" width="138" height="24.2"/><path class="g" d="M48,48.4V72.6M110,48.4V72.6"/><rect class="o" width="138" height="72.6"/><text class="c" x="69" y="17.5">abhab_not_sampled</text><text x="5" y="41.5">...</text><text x="5" y="65.7">&lt; 9</text><text class="r" x="106" y="65.7">0 rows</text></g>
<g id="abhab_segments_count_sizes" transform="translate(831,3842)"><rect class="h" width="202" height="24.2"/><rect class="w" y="24.2" width="202" height="24.2"/><rect class="f" y="48.4" width="202" height="24.2"/><path class="g" d="M71,48.4V72.6M168,48.4V72.6"/><rect class="o" width="202" height="72.6"/><text class="c" x="101" y="17.5">abhab_segments_count_sizes</text><text x="5" y="41.5">...</text><text x="5" y="65.7">&lt; 14</text><text class="r" x="164" y="65.7">3,095 rows</text></g>
<g id="field_event_collections" transform="translate(855,4240)"><rect class="h" width="152" height="24.2"/><rect class="w" y="24.2" width="152" height="24.2"/><rect class="f" y="48.4" width="152" height="24.2"/><path class="g" d="M56,48.4V72.6M126,48.4V72.6"/><rect class="o" width="152" height="72.6"/><text class="c" x="76" y="17.5">field_event_collections</text><text x="5" y="41.5">...</text><text x="5" y="65.7">&lt; 12</text><text class="r" x="122" y="65.7">51 rows</text></g>

<g id="field_event_data_collectors" transform="translate(815,3943)">
<rect class="h" width="233" height="24.2"/>
<rect class="k" y="24.2" width="132" height="24.2"/><rect class="w" x="132" y="24.2" width="101" height="24.2"/>
<rect class="k" y="48.4" width="132" height="24.2"/><rect class="w" x="132" y="48.4" width="101" height="24.2"/>
<rect class="k" y="72.6" width="132" height="24.2"/><rect class="w" x="132" y="72.6" width="101" height="24.2"/>
<rect class="k" y="96.8" width="132" height="24.2"/><rect class="w" x="132" y="96.8" width="101" height="24.2"/>
<rect class="k" y="121" width="132" height="24.2"/><rect class="w" x="132" y="121" width="101" height="24.2"/>
<rect class="k" y="145.2" width="132" height="24.2"/><rect class="w" x="132" y="145.2" width="101" height="24.2"/>
<rect class="k" y="169.4" width="132" height="24.2"/><rect class="w" x="132" y="169.4" width="101" height="24.2"/>
<rect class="w" y="193.6" width="132" height="24.2"/><rect class="w" x="132" y="193.6" width="101" height="24.2"/>
<rect class="w" y="217.8" width="132" height="24.2"/><rect class="w" x="132" y="217.8" width="101" height="24.2"/>
<rect class="f" y="242" width="233" height="24.2"/>
<path class="g" d="M37,242V266.2M132,242V266.2"/>
<rect class="ob" width="233" height="266.2"/>
<text class="c" x="116.5" y="17.5">field_event_data_collectors</text>
<text x="5" y="41.5">site_code</text><text x="137" y="41.5">char[6]</text>
<text x="5" y="65.7">survey_date</text><text x="137" y="65.7">date[10]</text>
<text x="5" y="89.9">group_code</text><text x="137" y="89.9">varchar[8]</text>
<text x="5" y="114.1">survey_type_code</text><text x="137" y="114.1">varchar[30]</text>
<text x="5" y="138.3">target_assemblage</text><text x="137" y="138.3">varchar[20]</text>
<text x="5" y="162.5">personnel_code</text><text x="137" y="162.5">varchar[10]</text>
<text x="5" y="186.7">role_code</text><text x="137" y="186.7">varchar[12]</text>
<text x="5" y="210.9">create_date</text><text x="137" y="210.9">date[10]</text>
<text x="5" y="235.1">modify_date</text><text x="137" y="235.1">timestamp[19]</text>
<text x="5" y="259.3">&lt; 7</text><text class="r" x="128" y="259.3">37,368 rows</text><text class="r" x="229" y="259.3">0 &gt;</text>
</g>

<g id="field_event_participants" transform="translate(533,3978)">
<rect class="h" width="159" height="24.2"/>
<rect class="k" y="24.2" width="159" height="24.2"/>
<rect class="k" y="48.4" width="159" height="24.2"/>
<rect class="k" y="72.6" width="159" height="24.2"/>
<rect class="k" y="96.8" width="159" height="24.2"/>
<rect class="w" y="121" width="159" height="24.2"/>
<rect class="w" y="145.2" width="159" height="24.2"/>
<rect class="f" y="169.4" width="159" height="24.2"/>
<path class="g" d="M35,169.4V193.6M125,169.4V193.6"/>
<rect class="o" width="159" height="193.6"/>
<text class="c" x="79.5" y="17.5">field_event_participants</text>
<text x="5" y="41.5">site_code</text>
<text x="5" y="65.7">survey_date</text>
<text x="5" y="89.9">group_code</text>
<text x="5" y="114.1">personnel_code</text>
<text x="5" y="138.3">create_date</text>
<text x="5" y="162.5">modify_date</text>
<text x="5" y="186.7">&lt; 4</text><text class="r" x="121" y="186.7">20,007 rows</text><text class="r" x="155" y="186.7">8 &gt;</text>
</g>

<g id="target_assemblages" transform="translate(208,1697)">
<rect class="h" width="208" height="24.2"/>
<rect class="k" y="24.2" width="208" height="24.2"/>
<rect class="w" y="48.4" width="208" height="24.2"/>
<rect class="w" y="72.6" width="208" height="24.2"/>
<rect class="w" y="96.8" width="208" height="24.2"/>
<rect class="w" y="121" width="208" height="24.2"/>
<rect class="f" y="145.2" width="208" height="24.2"/>
<path class="g" d="M64,145.2V169.4M147,145.2V169.4"/>
<rect class="o" width="208" height="169.4"/>
<text class="c" x="104" y="17.5">target_assemblages</text>
<text x="5" y="41.5">target_assemblage</text>
<text x="5" y="65.7">active_status</text>
<text x="5" y="89.9">target_assemblage_description</text>
<text x="5" y="114.1">create_date</text>
<text x="5" y="138.3">modify_date</text>
<text class="r" x="143" y="162.5">30 rows</text><text class="r" x="204" y="162.5">36 &gt;</text>
</g>

<g id="survey_type_codes" transform="translate(247,2749)">
<rect class="h" width="132" height="24.2"/>
<rect class="k" y="24.2" width="132" height="24.2"/>
<rect class="w" y="48.4" width="132" height="24.2"/>
<rect class="w" y="72.6" width="132" height="24.2"/>
<rect class="k" y="96.8" width="132" height="24.2"/>
<rect class="w" y="121" width="132" height="24.2"/>
<rect class="f" y="145.2" width="132" height="24.2"/>
<path class="g" d="M25,145.2V169.4M89,145.2V169.4"/>
<rect class="o" width="132" height="169.4"/>
<text class="c" x="66" y="17.5">survey_type_codes</text>
<text x="5" y="41.5">survey_type_code</text>
<text x="5" y="65.7">survey_category</text>
<text x="5" y="89.9">survey_description</text>
<text x="5" y="114.1">survey_group</text>
<text x="5" y="138.3">create_date</text>
<text class="r" x="85" y="162.5">45 rows</text><text class="r" x="128" y="162.5">16 &gt;</text>
</g>

<g id="role_codes" transform="translate(257,3018)">
<rect class="h" width="110" height="24.2"/>
<rect class="k" y="24.2" width="110" height="24.2"/>
<rect class="w" y="48.4" width="110" height="24.2"/>
<rect class="w" y="72.6" width="110" height="24.2"/>
<rect class="f" y="96.8" width="110" height="24.2"/>
<path class="g" d="M23,96.8V121M78,96.8V121"/>
<rect class="o" width="110" height="121"/>
<text class="c" x="55" y="17.5">role_codes</text>
<text x="5" y="41.5">role_code</text>
<text x="5" y="65.7">role_description</text>
<text x="5" y="89.9">create_date</text>
<text class="r" x="74" y="114.1">2 rows</text><text class="r" x="106" y="114.1">2 &gt;</text>
</g>

<g id="field_events" transform="translate(235,3659)"><rect class="h" width="154" height="24.2"/><rect class="w" y="24.2" width="154" height="24.2"/><rect class="f" y="48.4" width="154" height="24.2"/><path class="g" d="M28,48.4V72.6M109,48.4V72.6"/><rect class="o" width="154" height="72.6"/><text class="c" x="77" y="17.5">field_events</text><text x="5" y="41.5">...</text><text x="5" y="65.7">&lt; 4</text><text class="r" x="105" y="65.7">6,067 rows</text><text class="r" x="150" y="65.7">159 &gt;</text></g>
<g id="marine_personnel" transform="translate(16,3757)"><rect class="h" width="127" height="24.2"/><rect class="w" y="24.2" width="127" height="24.2"/><rect class="f" y="48.4" width="127" height="24.2"/><path class="g" d="M17,48.4V72.6M97,48.4V72.6"/><rect class="o" width="127" height="72.6"/><text class="c" x="63.5" y="17.5">marine_personnel</text><text x="5" y="41.5">...</text><text class="r" x="93" y="65.7">1,616 rows</text><text class="r" x="123" y="65.7">4 &gt;</text></g>

<text x="16" y="4351">Generated by SchemaSpy</text>
</svg>
